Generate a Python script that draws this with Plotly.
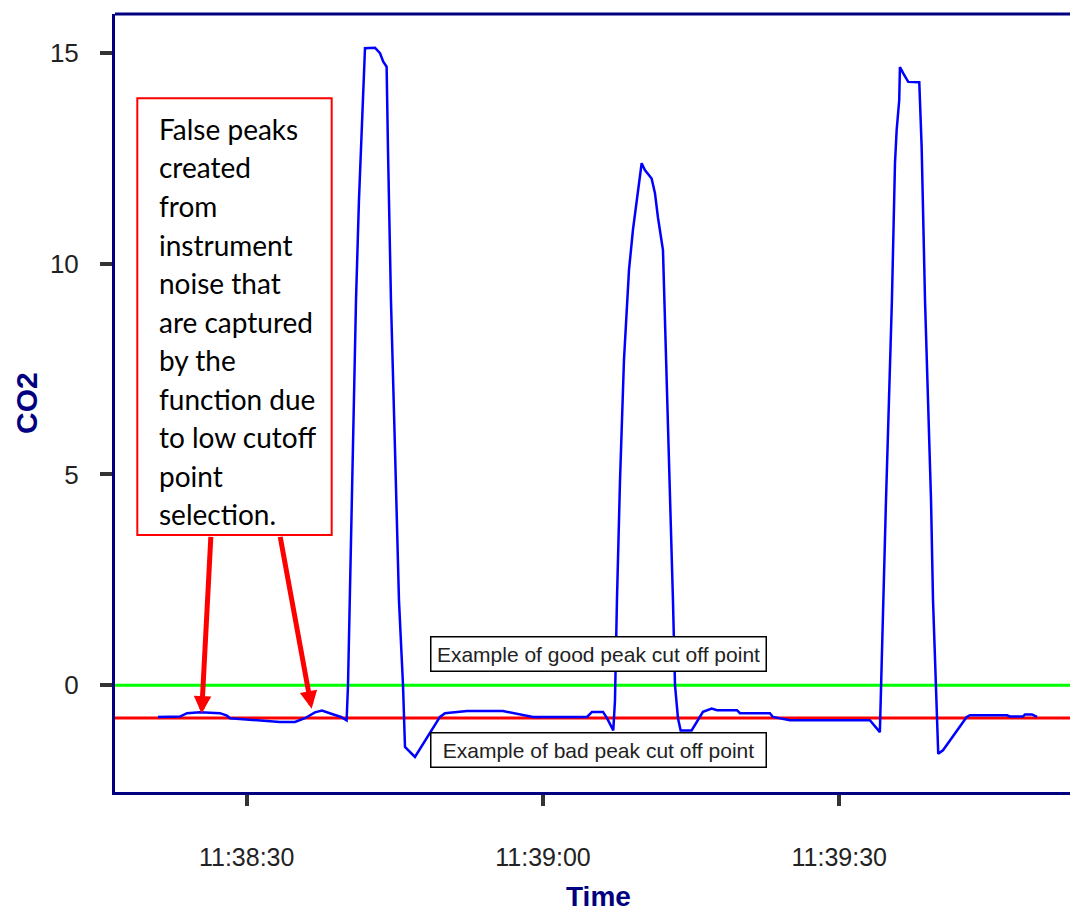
import plotly.graph_objects as go

DATE = "2019-01-01 "

# Time stamps and CO2 readings
time_stamps = [
    "11:38:21.02", "11:38:23.25", "11:38:23.96", "11:38:25.27", "11:38:27.30", "11:38:28.01",
    "11:38:28.31", "11:38:31.04", "11:38:33.37", "11:38:34.89", "11:38:35.90", "11:38:36.91",
    "11:38:37.62", "11:38:38.64", "11:38:39.55", "11:38:40.12", "11:38:40.26", "11:38:40.46",
    "11:38:40.76", "11:38:41.07", "11:38:41.37", "11:38:41.68", "11:38:41.81", "11:38:41.98",
    "11:38:42.99", "11:38:43.50", "11:38:43.83", "11:38:44.17", "11:38:44.31", "11:38:44.61",
    "11:38:45.02", "11:38:45.42", "11:38:45.83", "11:38:46.03", "11:38:47.04", "11:38:48.36",
    "11:38:49.57", "11:38:50.08", "11:38:52.31", "11:38:55.95", "11:38:56.96", "11:38:58.99",
    "11:39:04.46", "11:39:04.96", "11:39:06.08", "11:39:06.48", "11:39:07.12", "11:39:07.29",
    "11:39:07.49", "11:39:07.80", "11:39:08.20", "11:39:08.71", "11:39:09.11", "11:39:09.52",
    "11:39:09.82", "11:39:09.99", "11:39:10.32", "11:39:11.00", "11:39:11.34", "11:39:11.64",
    "11:39:12.15", "11:39:12.45", "11:39:12.86", "11:39:13.16", "11:39:13.37", "11:39:13.67",
    "11:39:13.94", "11:39:15.05", "11:39:16.20", "11:39:17.08", "11:39:17.62", "11:39:19.64",
    "11:39:19.94", "11:39:22.98", "11:39:23.28", "11:39:25.00", "11:39:31.89", "11:39:33.10",
    "11:39:34.11", "11:39:34.22", "11:39:34.42", "11:39:34.73", "11:39:35.03", "11:39:35.33",
    "11:39:35.64", "11:39:35.81", "11:39:36.07", "11:39:36.14", "11:39:36.48", "11:39:36.98",
    "11:39:38.10", "11:39:38.34", "11:39:38.68", "11:39:38.98", "11:39:39.29", "11:39:39.49",
    "11:39:39.79", "11:39:39.86", "11:39:40.02", "11:39:40.50", "11:39:41.71", "11:39:42.90",
    "11:39:43.23", "11:39:46.98", "11:39:47.28", "11:39:48.60", "11:39:48.80", "11:39:49.51",
    "11:39:50.02",
]
co2 = [
    -0.75, -0.74, -0.66, -0.64, -0.66, -0.72,
    -0.78, -0.83, -0.87, -0.87, -0.78, -0.64,
    -0.60, -0.68, -0.75, -0.83, 0.00, 2.25,
    5.58, 9.13, 11.51, 13.17, 13.93, 15.11,
    15.12, 14.99, 14.79, 14.67, 12.69, 9.13,
    5.58, 2.02, 0.00, -1.46, -1.70, -1.19,
    -0.75, -0.66, -0.61, -0.61, -0.66, -0.75,
    -0.75, -0.63, -0.63, -0.78, -1.07, -0.36,
    2.02, 4.86, 7.71, 9.85, 10.80, 11.51,
    12.10, 12.38, 12.22, 12.02, 11.67, 11.10,
    10.32, 7.95, 4.39, 2.02, 0.00, -0.78,
    -1.07, -1.07, -0.63, -0.55, -0.59, -0.59,
    -0.66, -0.66, -0.75, -0.83, -0.83, -0.83,
    -1.11, 0.00, 2.02, 4.39, 6.76, 9.13,
    12.38, 13.17, 13.88, 14.66, 14.51, 14.31,
    14.30, 12.77, 9.13, 6.76, 4.39, 2.02,
    0.00, -0.78, -1.62, -1.54, -1.14, -0.75,
    -0.71, -0.71, -0.74, -0.74, -0.69, -0.69,
    -0.75,
]

good_cutoff = 0.0
bad_cutoff = -0.776

x_range = ["11:38:16.67", "11:39:53.36"]
y_range = [-2.53, 15.92]
y_ticks = [0, 5, 10, 15]

good_label = "Example of good peak cut off point"
bad_label = "Example of bad peak cut off point"
label_time = "11:39:05.6"
good_label_y = 0.735
bad_label_y = -1.523

note_lines = ["False peaks", "created", "from", "instrument", "noise that",
              "are captured", "by the", "function due", "to low cutoff",
              "point", "selection."]

arrow_tips_t = ["11:38:25.44", "11:38:36.58"]
arrow_tips_v = [-0.671, -0.553]
arrow_tails = [(9.3, -178.3), (-31.7, -173.3)]

NAVY = "#000080"

fig = go.Figure()
fig.add_trace(go.Scatter(
    x=[DATE + t for t in time_stamps], y=co2, mode="lines",
    line=dict(color="#0000ff", width=2.5), showlegend=False, hoverinfo="skip"))

fig.add_shape(type="line", xref="paper", x0=0, x1=1, yref="y", y0=good_cutoff, y1=good_cutoff,
              line=dict(color="#00ff00", width=3), layer="below")
fig.add_shape(type="line", xref="paper", x0=0, x1=1, yref="y", y0=bad_cutoff, y1=bad_cutoff,
              line=dict(color="#ff0000", width=3), layer="below")
# top border
fig.add_shape(type="line", xref="paper", yref="paper", x0=0, x1=1, y0=1, y1=1,
              line=dict(color=NAVY, width=3))
# note box
fig.add_shape(type="rect", xref="paper", yref="paper", x0=0.02335, x1=0.2269, y0=0.3303, y1=0.8916,
              line=dict(color="#ff0000", width=2), fillcolor="white")

for i, txt in enumerate(note_lines):
    ypix = 129 + 38.5 * i
    fig.add_annotation(text=txt, xref="paper", yref="paper", x=0.0445, y=(792 - ypix) / 778,
                       xanchor="left", yanchor="middle", showarrow=False,
                       font=dict(family="Lato, Carlito, Calibri, sans-serif", size=28, color="black"))

for t, v, (ax, ay) in zip(arrow_tips_t, arrow_tips_v, arrow_tails):
    fig.add_annotation(x=DATE + t, y=v, xref="x", yref="y", text="", showarrow=True,
                       ax=ax, ay=ay, arrowcolor="#ff0000", arrowwidth=5, arrowhead=2,
                       arrowsize=0.7, standoff=0)

for lab, yv in [(good_label, good_label_y), (bad_label, bad_label_y)]:
    fig.add_annotation(text=lab, x=DATE + label_time, y=yv, xref="x", yref="y",
                       showarrow=False, xanchor="center", yanchor="middle",
                       bgcolor="white", bordercolor="black", borderwidth=1.5, borderpad=3,
                       width=328, height=27,
                       font=dict(family="Liberation Sans, Arial, sans-serif", size=21, color="#222222"))

fig.add_annotation(text="<b>CO2</b>", xref="paper", yref="paper", x=-0.0932, y=0.5,
                   textangle=-90, showarrow=False, xanchor="center", yanchor="middle",
                   font=dict(family="Liberation Sans, Arial, sans-serif", size=30, color=NAVY))
fig.add_annotation(text="<b>Time</b>", xref="paper", yref="paper", x=0.5058, y=-0.1337,
                   showarrow=False, xanchor="center", yanchor="middle",
                   font=dict(family="Liberation Sans, Arial, sans-serif", size=28, color=NAVY))

fig.update_layout(
    width=1070, height=911,
    margin=dict(l=115, r=0, t=14, b=119, autoexpand=False),
    paper_bgcolor="white", plot_bgcolor="white",
    font=dict(family="Liberation Sans, Arial, sans-serif", color="#333333"),
)
fig.update_xaxes(
    type="date", range=[DATE + x_range[0], DATE + x_range[1]],
    tick0=DATE + "11:38:00", dtick=30000, tickformat="%H:%M:%S",
    showgrid=False, zeroline=False, showline=True, linecolor=NAVY, linewidth=3,
    ticks="outside", ticklen=11, tickwidth=4, tickcolor="#333333",
    tickfont=dict(size=25, color="#222222"), ticklabelstandoff=30, automargin=False,
)
fig.update_yaxes(
    range=y_range, tickvals=y_ticks,
    showgrid=False, zeroline=False, showline=True, linecolor=NAVY, linewidth=3,
    ticks="outside", ticklen=12, tickwidth=4, tickcolor="#333333",
    tickfont=dict(size=26, color="#222222"), ticklabelstandoff=16, automargin=False,
)

fig.write_html(
    "out.html",
    config={"displayModeBar": False},
    post_script="document.body.style.margin='0';document.body.style.overflow='hidden';",
)
